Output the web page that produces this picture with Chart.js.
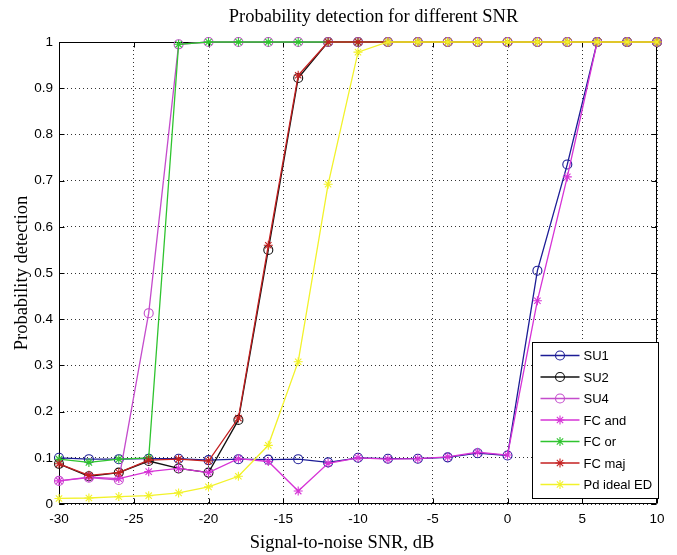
<!DOCTYPE html>
<html><head><meta charset="utf-8">
<script src="https://cdn.jsdelivr.net/npm/chart.js@4.4.0/dist/chart.umd.min.js"></script>
<style>html,body{margin:0;padding:0;background:#fff;}#wrap{width:677px;height:555px;}</style>
</head><body><div id="wrap"><canvas id="c" width="677" height="555"></canvas></div>
<script>
const snr = [-30,-28,-26,-24,-22,-20,-18,-16,-14,-12,-10,-8,-6,-4,-2,0,2,4,6,8,10];
const su1 = [0.100,0.097,0.097,0.098,0.098,0.095,0.097,0.096,0.097,0.090,0.100,0.098,0.098,0.101,0.110,0.105,0.505,0.735,1,1,1];
const su2 = [0.087,0.060,0.068,0.093,0.077,0.068,0.182,0.550,0.922,1,1,1,1,1,1,1,1,1,1,1,1];
const su4 = [0.050,0.057,0.052,0.413,0.995,1,1,1,1,1,1,1,1,1,1,1,1,1,1,1,1];
const fcAnd = [0.050,0.058,0.055,0.070,0.077,0.068,0.098,0.092,0.028,0.088,0.100,0.097,0.098,0.102,0.112,0.106,0.440,0.708,1,1,1];
const fcOr = [0.097,0.090,0.097,0.100,0.995,1,1,1,1,1,1,1,1,1,1,1,1,1,1,1,1];
const fcMaj = [0.087,0.062,0.068,0.095,0.097,0.093,0.186,0.560,0.928,1,1,1,1,1,1,1,1,1,1,1,1];
const pdIdeal = [0.012,0.013,0.016,0.018,0.024,0.037,0.060,0.127,0.308,0.692,0.978,1,1,1,1,1,1,1,1,1,1];
const seriesNames = ['SU1','SU2','SU4','FC and','FC or','FC maj','Pd ideal ED'];
const xTicks = [-30,-25,-20,-15,-10,-5,0,5,10];
const yTicks = [0,0.1,0.2,0.3,0.4,0.5,0.6,0.7,0.8,0.9,1];

const seriesValues = [su1, su2, su4, fcAnd, fcOr, fcMaj, pdIdeal];
const colors = ['#1c1c96','#111111','#c44ccc','#d633d6','#2fc42f','#c42020','#f2f22a'];
const markers = ['circle','circle','circle','star','star','star','star'];

const datasets = seriesNames.map((name, i) => ({
  label: name,
  data: snr.map((s, k) => ({x: s, y: seriesValues[i][k]})),
  borderColor: colors[i],
  backgroundColor: colors[i],
  borderWidth: 1.3,
  pointStyle: markers[i],
  pointRadius: 4.5,
  pointBorderWidth: 1.1,
  pointBorderColor: colors[i],
  pointBackgroundColor: 'rgba(0,0,0,0)',
  tension: 0,
  clip: false,
  order: -i
}));

function drawMarker(ctx, style, x, y, r, color) {
  ctx.save();
  ctx.strokeStyle = color; ctx.lineWidth = 1.1;
  ctx.beginPath();
  if (style === 'circle') {
    ctx.arc(x, y, r, 0, Math.PI * 2);
  } else {
    ctx.moveTo(x - r, y); ctx.lineTo(x + r, y);
    ctx.moveTo(x, y - r); ctx.lineTo(x, y + r);
    const d = r * 0.7071;
    ctx.moveTo(x - d, y - d); ctx.lineTo(x + d, y + d);
    ctx.moveTo(x - d, y + d); ctx.lineTo(x + d, y - d);
  }
  ctx.stroke();
  ctx.restore();
}

const framePlugin = {
  id: 'frame',
  afterLayout(chart) {
    const t = chart.titleBlock;
    if (t) { t.left += 45; t.right += 45; }
  },
  beforeDatasetsDraw(chart) {
    const {ctx, chartArea: a, scales: {x, y}} = chart;
    ctx.save();
    ctx.strokeStyle = '#000'; ctx.lineWidth = 1;
    const L = Math.round(a.left) + 0.5, R = Math.round(a.right) - 0.5;
    const T = Math.round(a.top) + 0.5, B = Math.round(a.bottom) - 0.5;
    ctx.beginPath();
    ctx.rect(L, T, R - L, B - T);
    const len = 5;
    xTicks.forEach(v => {
      const p = Math.round(x.getPixelForValue(v)) + 0.5;
      ctx.moveTo(p, B); ctx.lineTo(p, B - len);
      ctx.moveTo(p, T); ctx.lineTo(p, T + len);
    });
    yTicks.forEach(v => {
      const p = Math.round(y.getPixelForValue(v)) + 0.5;
      ctx.moveTo(L, p); ctx.lineTo(L + len, p);
      ctx.moveTo(R, p); ctx.lineTo(R - len, p);
    });
    ctx.stroke();
    ctx.restore();
  },
  afterDraw(chart) {
    const {ctx, chartArea: a} = chart;
    const w = 126, h = 156;
    const bx = Math.round(a.right + 1 - w) + 0.5, by = Math.round(a.bottom - 6 - h) + 0.5;
    ctx.save();
    ctx.fillStyle = '#fff';
    ctx.fillRect(bx, by, w, h);
    ctx.strokeStyle = '#000'; ctx.lineWidth = 1;
    ctx.strokeRect(bx, by, w, h);
    ctx.font = '13px "Liberation Sans", Arial, sans-serif';
    ctx.textBaseline = 'middle';
    ctx.textAlign = 'left';
    chart.data.datasets.forEach((ds, i) => {
      const yy = by + 13 + i * 21.5;
      ctx.strokeStyle = ds.borderColor; ctx.lineWidth = 1.3;
      ctx.beginPath(); ctx.moveTo(bx + 8, yy); ctx.lineTo(bx + 47, yy); ctx.stroke();
      drawMarker(ctx, ds.pointStyle, bx + 27.5, yy, 4.5, ds.borderColor);
      ctx.fillStyle = '#000';
      ctx.fillText(ds.label, bx + 51, yy + 1);
    });
    ctx.restore();
  }
};

const serif = '"Liberation Serif", "Times New Roman", serif';

new Chart(document.getElementById('c'), {
  type: 'line',
  data: { datasets },
  options: {
    responsive: false,
    animation: false,
    devicePixelRatio: 1,
    layout: { padding: { left: 0, right: 20, top: 0, bottom: 0 } },
    plugins: {
      legend: { display: false },
      tooltip: { enabled: false },
      title: {
        display: true,
        text: 'Probability detection for different SNR',
        color: '#000',
        font: { family: serif, size: 18.5, weight: 'normal' },
        padding: { top: 6, bottom: 13.8 }
      }
    },
    scales: {
      x: {
        type: 'linear', min: -30, max: 10,
        afterBuildTicks(s) { s.ticks = xTicks.map(v => ({value: v})); },
        afterFit(s) {
          s.height = 51;
          if (!s._titleShifted) {
            const orig = s.drawTitle;
            s.drawTitle = function () {
              this.ctx.save(); this.ctx.translate(-16, 0);
              orig.apply(this, arguments);
              this.ctx.restore();
            };
            s._titleShifted = true;
          }
        },
        ticks: { color: '#000', padding: 7, maxRotation: 0, autoSkip: false,
          font: { family: '"Liberation Sans", Arial, sans-serif', size: 13.5 },
          callback: v => String(v) },
        grid: { color: 'rgba(0,0,0,0.8)', lineWidth: 1, drawTicks: false },
        border: { display: false, dash: [1, 3] },
        title: { display: true, text: 'Signal-to-noise SNR, dB', color: '#000',
          font: { family: serif, size: 18.5 },
          padding: { top: 0, bottom: 1 } }
      },
      y: {
        type: 'linear', min: 0, max: 1,
        afterBuildTicks(s) { s.ticks = yTicks.map(v => ({value: v})); },
        afterFit(s) { s.width = 59; },
        ticks: { color: '#000', padding: 6, autoSkip: false,
          font: { family: '"Liberation Sans", Arial, sans-serif', size: 13.5 },
          callback: v => String(Math.round(v * 10) / 10) },
        grid: { color: 'rgba(0,0,0,0.8)', lineWidth: 1, drawTicks: false },
        border: { display: false, dash: [1, 3] },
        title: { display: true, text: 'Probability detection', color: '#000',
          font: { family: serif, size: 18.5 },
          padding: { top: 11, bottom: 0 } }
      }
    }
  },
  plugins: [framePlugin]
});
</script>
</body></html>
